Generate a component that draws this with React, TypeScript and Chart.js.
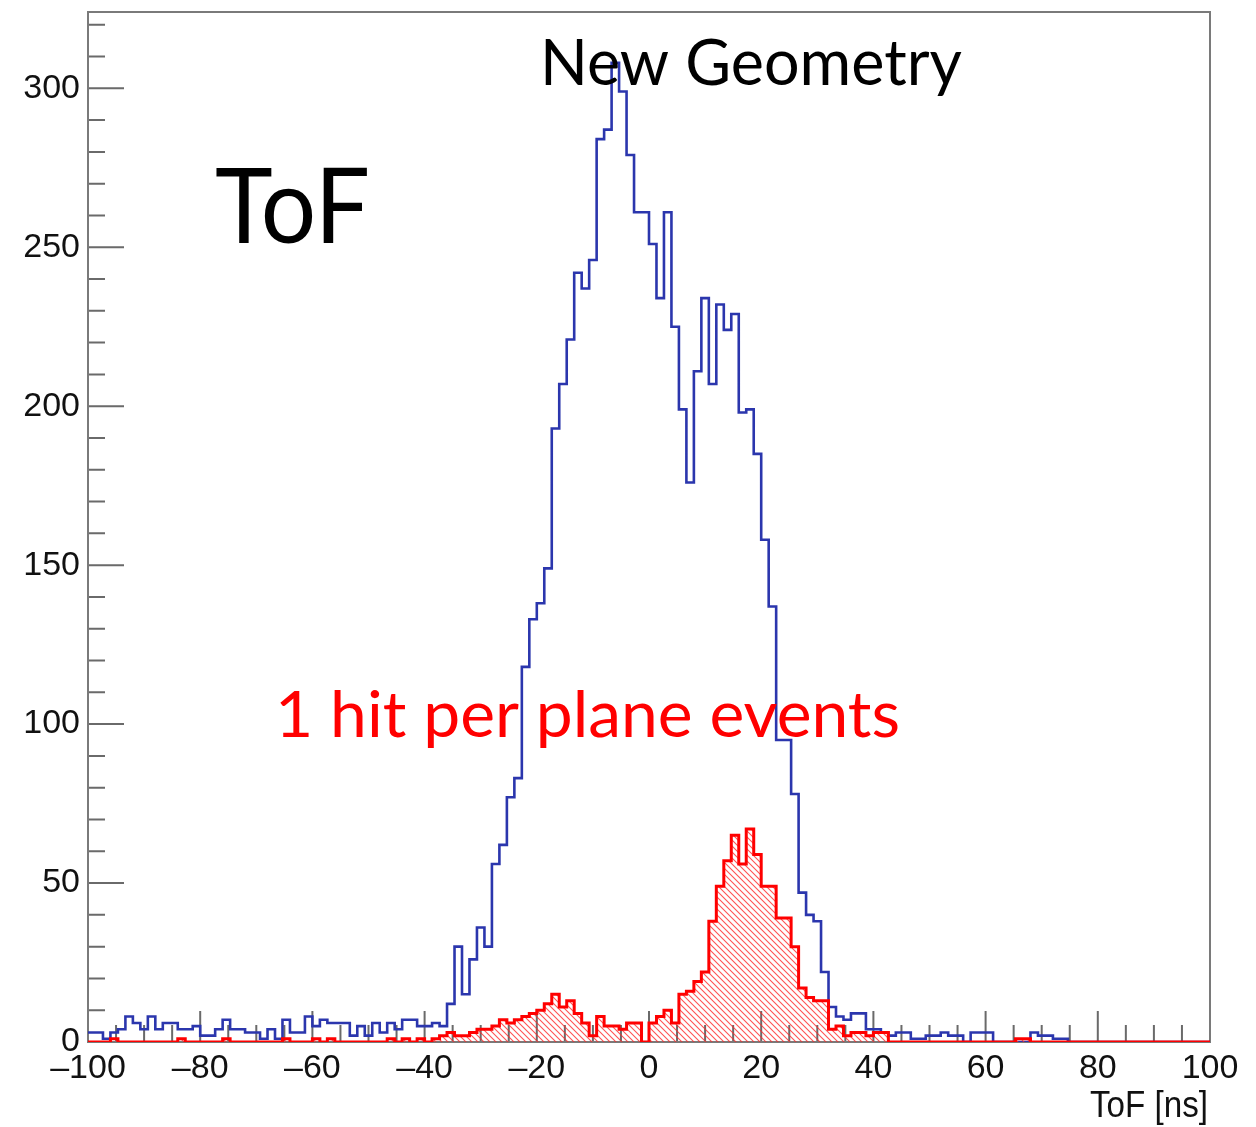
import React, { useEffect, useRef } from 'react';
import { Chart, registerables } from 'chart.js';

Chart.register(...registerables);

// ---- axis ranges / binning ----
const X_MIN = -100;
const X_MAX = 100;
const N_BINS = 150;
const Y_MIN = 0;
const Y_MAX = 324;

// tick steps
const X_MAJOR = 20;
const X_MINOR = 5;
const Y_MAJOR = 50;
const Y_MINOR = 10;

// ---- histogram contents (counts per bin, 150 bins from -100 to 100 ns) ----
const blueCounts = [
  3, 3, 1, 3, 4, 8, 6, 4, 8, 4,
  6, 6, 4, 4, 5, 2, 2, 4, 7, 4,
  4, 3, 3, 1, 4, 1, 7, 3, 3, 8,
  5, 7, 6, 6, 6, 2, 5, 2, 6, 3,
  6, 4, 7, 7, 5, 5, 6, 5, 12, 30,
  15, 26, 36, 30, 56, 62, 77, 83, 118, 133,
  138, 149, 193, 207, 221, 242, 237, 246, 284, 287,
  308, 299, 279, 261, 261, 251, 234, 261, 225, 199,
  176, 211, 234, 207, 232, 224, 229, 198, 199, 185,
  158, 137, 95, 95, 78, 47, 40, 38, 22, 11,
  8, 7, 9, 9, 4, 4, 3, 2, 3, 3,
  1, 1, 2, 2, 3, 2, 2, 0, 3, 3,
  3, 0, 0, 0, 0, 0, 3, 2, 2, 1,
  1, 0, 0, 0, 0, 0, 0, 0, 0, 0,
  0, 0, 0, 0, 0, 0, 0, 0, 0, 0,
];

const redCounts = [
  0, 0, 0, 1, 0, 0, 0, 0, 0, 0,
  0, 0, 1, 0, 0, 0, 0, 0, 1, 0,
  0, 0, 0, 0, 0, 0, 1, 0, 0, 0,
  1, 0, 1, 0, 0, 0, 0, 0, 0, 0,
  1, 0, 1, 0, 1, 0, 1, 2, 3, 2,
  2, 3, 4, 4, 5, 7, 6, 7, 8, 9,
  10, 12, 15, 11, 13, 9, 6, 2, 8, 5,
  5, 4, 6, 6, 0, 6, 8, 10, 6, 15,
  16, 19, 22, 38, 49, 57, 65, 56, 67, 59,
  49, 49, 39, 39, 30, 17, 14, 13, 13, 4,
  5, 2, 3, 3, 2, 3, 3, 0, 0, 0,
  0, 0, 0, 0, 0, 0, 0, 0, 0, 0,
  0, 0, 0, 0, 1, 1, 0, 0, 0, 0,
  0, 0, 0, 0, 0, 0, 0, 0, 0, 0,
  0, 0, 0, 0, 0, 0, 0, 0, 0, 0,
];

// ---- texts ----
const titleText = 'New Geometry';
const bigLabel = 'ToF';
const redLabel = '1 hit per plane events';
const xAxisTitle = 'ToF [ns]';

const BIN_W = (X_MAX - X_MIN) / N_BINS;

function toSteps(counts: number[]) {
  const pts = counts.map((v, i) => ({ x: X_MIN + i * BIN_W, y: v }));
  pts.push({ x: X_MAX, y: counts[counts.length - 1] });
  return pts;
}

function makeHatch(): CanvasPattern | string {
  const c = document.createElement('canvas');
  c.width = 6;
  c.height = 6;
  const g = c.getContext('2d');
  if (!g) return 'rgba(255,0,0,0.2)';
  g.strokeStyle = 'rgba(255,40,40,0.8)';
  g.lineWidth = 1.1;
  g.beginPath();
  g.moveTo(-1, -1);
  g.lineTo(7, 7);
  g.moveTo(-1, 5);
  g.lineTo(1, 7);
  g.moveTo(5, -1);
  g.lineTo(7, 1);
  g.stroke();
  return g.createPattern(c, 'repeat') || 'rgba(255,0,0,0.2)';
}

function drawFitted(
  ctx: CanvasRenderingContext2D,
  text: string,
  x: number,
  baseline: number,
  width: number,
  size: number,
  family: string,
  color: string
) {
  ctx.save();
  ctx.font = `${size}px ${family}`;
  const w = ctx.measureText(text).width || 1;
  ctx.translate(x, baseline);
  ctx.scale(width / w, 1);
  ctx.fillStyle = color;
  ctx.textAlign = 'left';
  ctx.textBaseline = 'alphabetic';
  ctx.fillText(text, 0, 0);
  ctx.restore();
}

const rootDecor = {
  id: 'rootDecor',
  beforeDatasetsDraw(chart: any) {
    const { ctx, chartArea: a, scales } = chart;
    const xs = scales.x;
    const ys = scales.y;
    ctx.save();
    ctx.strokeStyle = '#6a6a6a';
    ctx.lineWidth = 2;
    ctx.beginPath();
    for (let v = Y_MIN; v <= Y_MAX; v += Y_MINOR) {
      const y = ys.getPixelForValue(v);
      const len = v % Y_MAJOR === 0 ? 36 : 17;
      ctx.moveTo(a.left, y);
      ctx.lineTo(a.left + len, y);
    }
    for (let v = X_MIN; v <= X_MAX; v += X_MINOR) {
      const x = xs.getPixelForValue(v);
      const len = v % X_MAJOR === 0 ? 31 : 17;
      ctx.moveTo(x, a.bottom);
      ctx.lineTo(x, a.bottom - len);
    }
    ctx.stroke();
    ctx.strokeStyle = '#7a7a7a';
    ctx.strokeRect(a.left, a.top, a.right - a.left, a.bottom - a.top);
    ctx.restore();
  },
  afterDraw(chart: any) {
    const ctx = chart.ctx as CanvasRenderingContext2D;
    drawFitted(ctx, titleText, 540, 85, 422, 64, 'Lato', '#000');
    drawFitted(ctx, bigLabel, 215, 243, 155, 104, 'Lato', '#000');
    drawFitted(ctx, redLabel, 275, 737, 625, 64, 'Lato', '#ff0000');
    drawFitted(ctx, xAxisTitle, 1090, 1117, 118, 37, '"Liberation Sans"', '#111');
  },
};

export default function App() {
  const ref = useRef<HTMLCanvasElement>(null);

  useEffect(() => {
    document.body.style.margin = '0';
    document.body.style.overflow = 'hidden';
    const canvas = ref.current;
    if (!canvas) return;
    const hatch = makeHatch();

    const chart = new Chart(canvas, {
      type: 'line',
      data: {
        datasets: [
          {
            label: '1 hit per plane',
            data: toSteps(redCounts),
            stepped: 'before',
            borderColor: '#ff0000',
            borderWidth: 3,
            backgroundColor: hatch as any,
            fill: 'origin',
            pointRadius: 0,
            order: 0,
          },
          {
            label: 'all',
            data: toSteps(blueCounts),
            stepped: 'before',
            borderColor: '#2b36ad',
            borderWidth: 2.6,
            fill: false,
            pointRadius: 0,
            order: 1,
          },
        ],
      },
      options: {
        animation: false,
        responsive: false,
        parsing: false as any,
        normalized: true,
        events: [],
        layout: { padding: { top: 12, right: 46, left: 0, bottom: 0 } },
        plugins: {
          legend: { display: false },
          tooltip: { enabled: false },
          title: { display: false },
        },
        scales: {
          x: {
            type: 'linear',
            min: X_MIN,
            max: X_MAX,
            grid: { display: false, drawTicks: false },
            border: { display: false },
            afterFit: (s: any) => {
              s.height = 85;
              s.paddingLeft = 0;
              s.paddingRight = 0;
            },
            ticks: {
              stepSize: X_MAJOR,
              padding: 6,
              maxRotation: 0,
              autoSkip: false,
              color: '#111',
              font: { family: '"Liberation Sans"', size: 34 },
              callback: (v: any) => {
                const n = Number(v);
                return n < 0 ? '\u2013' + Math.abs(n) : String(n);
              },
            },
          },
          y: {
            type: 'linear',
            min: Y_MIN,
            max: Y_MAX,
            grid: { display: false, drawTicks: false },
            border: { display: false },
            afterFit: (s: any) => {
              s.width = 88;
              s.paddingTop = 0;
              s.paddingBottom = 0;
            },
            ticks: {
              stepSize: Y_MAJOR,
              includeBounds: false,
              padding: 8,
              color: '#111',
              font: { family: '"Liberation Sans"', size: 34 },
            },
          },
        },
      },
      plugins: [rootDecor],
    });

    return () => chart.destroy();
  }, []);

  return (
    <div style={{ width: 1256, height: 1127, background: '#fff' }}>
      <canvas ref={ref} width={1256} height={1127} />
    </div>
  );
}
